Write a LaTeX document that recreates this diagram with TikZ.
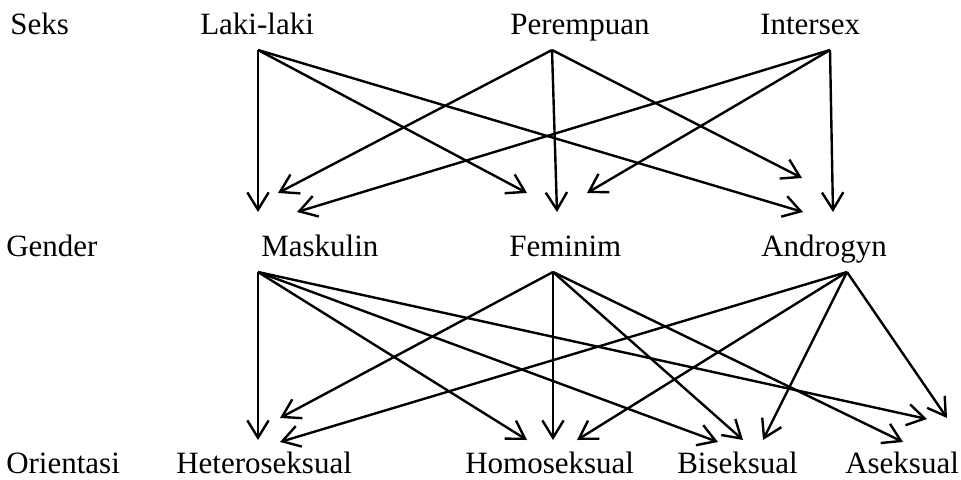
\documentclass[tikz,border=0pt]{standalone}
\usepackage{fontspec}
\setmainfont{Liberation Serif}
\usetikzlibrary{arrows.meta}
\begin{document}
\begin{tikzpicture}[x=0.75pt,y=-0.75pt,
  lbl/.style={anchor=base west, inner sep=0pt, font=\fontsize{23.25}{28}\selectfont},
  conn/.style={line width=1.8pt, -{Straight Barb[length=13pt,width=16pt]}}]
\useasboundingbox (0,0) rectangle (961,479);
% labels
\node[lbl] (seks)   at (10,34)  {Seks};
\node[lbl] (laki)   at (200,34) {Laki-laki};
\node[lbl] (per)    at (510,34) {Perempuan};
\node[lbl] (inter)  at (760,34) {Intersex};
\node[lbl] (gender) at (6,256)   {Gender};
\node[lbl] (mask)   at (261,256) {Maskulin};
\node[lbl] (fem)    at (509,256) {Feminim};
\node[lbl] (andro)  at (761,256) {Androgyn};
\node[lbl] (orient) at (6,473)   {Orientasi};
\node[lbl] (hetero) at (176,473) {Heteroseksual};
\node[lbl] (homo)   at (465,473) {Homoseksual};
\node[lbl] (bisek)  at (677,473) {Biseksual};
\node[lbl] (asek)   at (845,473) {Aseksual};
% source points
\coordinate (lakiO)  at (258,50);
\coordinate (perO)   at (552,50);
\coordinate (interO) at (830,50);
\coordinate (maskO)  at (258,272);
\coordinate (femO)   at (553,272);
\coordinate (androO) at (847,272);
% arrow ends, middle row
\coordinate (maskA) at (258,212);
\coordinate (maskB) at (278,193);
\coordinate (maskC) at (297,212);
\coordinate (femA)  at (527,193);
\coordinate (femB)  at (557,212);
\coordinate (femC)  at (587,193);
\coordinate (androA) at (802,178);
\coordinate (androB) at (803,212);
\coordinate (androC) at (833,212);
% arrow ends, bottom row
\coordinate (heteroA) at (258,440);
\coordinate (heteroB) at (280,418);
\coordinate (heteroC) at (280,442);
\coordinate (homoA) at (527,440);
\coordinate (homoB) at (553,440);
\coordinate (homoC) at (577,440);
\coordinate (bisekA) at (718,442);
\coordinate (bisekB) at (743,440);
\coordinate (bisekC) at (763,440);
\coordinate (asekA) at (903,442);
\coordinate (asekB) at (927,419);
\coordinate (asekC) at (947,418);
% Seks -> Gender
\draw[conn] (lakiO) -- (maskA);
\draw[conn] (lakiO) -- (femA);
\draw[conn] (lakiO) -- (androB);
\draw[conn] (perO) -- (maskB);
\draw[conn] (perO) -- (femB);
\draw[conn] (perO) -- (androA);
\draw[conn] (interO) -- (maskC);
\draw[conn] (interO) -- (femC);
\draw[conn] (interO) -- (androC);
% Gender -> Orientasi
\draw[conn] (maskO) -- (heteroA);
\draw[conn] (maskO) -- (homoA);
\draw[conn] (maskO) -- (bisekA);
\draw[conn] (maskO) -- (asekB);
\draw[conn] (femO) -- (heteroB);
\draw[conn] (femO) -- (homoB);
\draw[conn] (femO) -- (bisekB);
\draw[conn] (femO) -- (asekA);
\draw[conn] (androO) -- (heteroC);
\draw[conn] (androO) -- (homoC);
\draw[conn] (androO) -- (bisekC);
\draw[conn] (androO) -- (asekC);
\end{tikzpicture}
\end{document}
